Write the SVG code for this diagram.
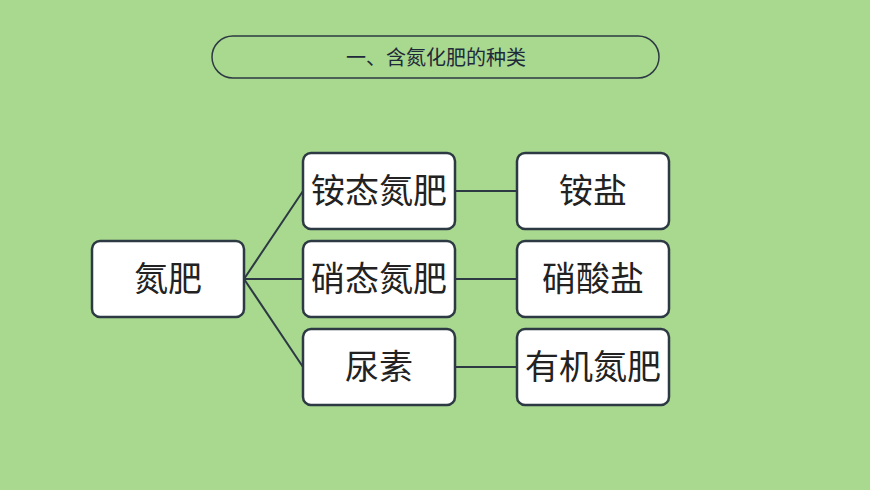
<svg xmlns="http://www.w3.org/2000/svg" width="870" height="490" viewBox="0 0 870 490">
<style>
.box{fill:#fff;stroke:#2d3a44;stroke-width:2.5}
.t{font-family:"Noto Sans CJK SC","Noto Sans CJK JP",sans-serif;font-size:34px;fill:#222;text-anchor:middle;dominant-baseline:central}
.c{stroke:#2d3a44;stroke-width:2;fill:none}
</style>
<rect width="870" height="490" fill="#a9d88f"/>
<g id="title"><rect x="212" y="36" width="447" height="42" rx="21" fill="none" stroke="#2d3a44" stroke-width="1.5"/>
<text x="436" y="56" style="font-family:'Noto Sans CJK SC',sans-serif;font-size:20px;fill:#1e2a3a;text-anchor:middle;dominant-baseline:central">一、含氮化肥的种类</text></g>
<g id="connectors">
<path class="c" d="M244 279L303 191M244 279H303M244 279L303 367M455 191H517M455 279H517M455 367H517"/>
</g>
<g id="n0"><rect class="box" x="92" y="241" width="152" height="76" rx="8"/><text class="t" x="168" y="276">氮肥</text></g>
<g id="n1"><rect class="box" x="303" y="153" width="152" height="76" rx="8"/><text class="t" x="379" y="188">铵态氮肥</text></g>
<g id="n2"><rect class="box" x="303" y="241" width="152" height="76" rx="8"/><text class="t" x="379" y="276">硝态氮肥</text></g>
<g id="n3"><rect class="box" x="303" y="329" width="152" height="76" rx="8"/><text class="t" x="379" y="364">尿素</text></g>
<g id="n4"><rect class="box" x="517" y="153" width="152" height="76" rx="8"/><text class="t" x="593" y="188">铵盐</text></g>
<g id="n5"><rect class="box" x="517" y="241" width="152" height="76" rx="8"/><text class="t" x="593" y="276">硝酸盐</text></g>
<g id="n6"><rect class="box" x="517" y="329" width="152" height="76" rx="8"/><text class="t" x="593" y="364">有机氮肥</text></g>
</svg>
